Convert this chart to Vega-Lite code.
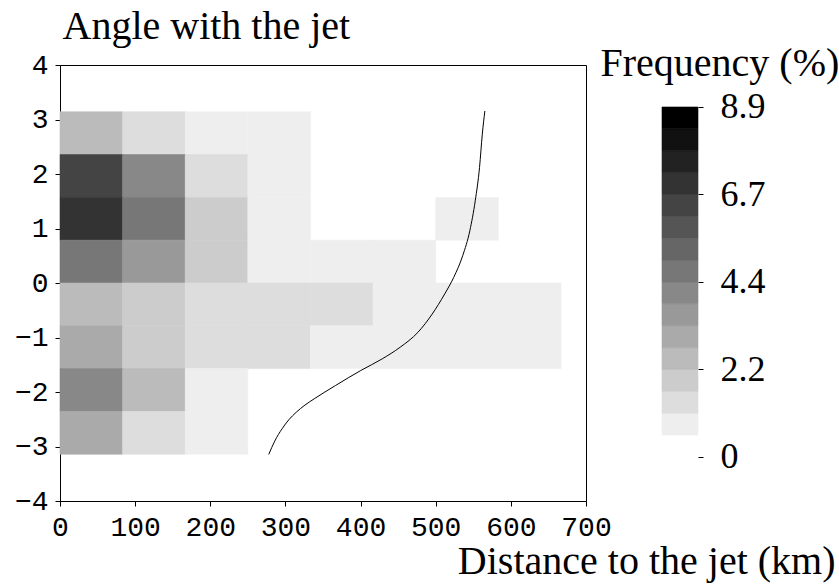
{
  "$schema": "https://vega.github.io/schema/vega-lite/v6.json",
  "background": "white",
  "padding": {"left": 13, "top": 5, "right": 4, "bottom": 8},
  "config": {
    "view": {"stroke": "black", "strokeWidth": 1},
    "axis": {
      "grid": false,
      "domainColor": "black",
      "tickColor": "black",
      "labelColor": "black",
      "titleColor": "black",
      "labelFont": "Liberation Mono",
      "labelFontSize": 28,
      "titleFont": "Liberation Serif",
      "titleFontSize": 40,
      "titleFontWeight": "normal"
    }
  },
  "datasets": {
    "cells": [
      {"dist_start": 0, "dist_end": 83.33, "angle_start": 2.3562, "angle_end": 3.1416, "freq": 2.5},
      {"dist_start": 83.33, "dist_end": 166.67, "angle_start": 2.3562, "angle_end": 3.1416, "freq": 1.39},
      {"dist_start": 166.67, "dist_end": 250, "angle_start": 2.3562, "angle_end": 3.1416, "freq": 0.83},
      {"dist_start": 250, "dist_end": 333.33, "angle_start": 2.3562, "angle_end": 3.1416, "freq": 0.83},

      {"dist_start": 0, "dist_end": 83.33, "angle_start": 1.5708, "angle_end": 2.3562, "freq": 6.4},
      {"dist_start": 83.33, "dist_end": 166.67, "angle_start": 1.5708, "angle_end": 2.3562, "freq": 4.17},
      {"dist_start": 166.67, "dist_end": 250, "angle_start": 1.5708, "angle_end": 2.3562, "freq": 1.39},
      {"dist_start": 250, "dist_end": 333.33, "angle_start": 1.5708, "angle_end": 2.3562, "freq": 0.83},

      {"dist_start": 0, "dist_end": 83.33, "angle_start": 0.7854, "angle_end": 1.5708, "freq": 6.95},
      {"dist_start": 83.33, "dist_end": 166.67, "angle_start": 0.7854, "angle_end": 1.5708, "freq": 4.7},
      {"dist_start": 166.67, "dist_end": 250, "angle_start": 0.7854, "angle_end": 1.5708, "freq": 1.95},
      {"dist_start": 250, "dist_end": 333.33, "angle_start": 0.7854, "angle_end": 1.5708, "freq": 0.83},
      {"dist_start": 500, "dist_end": 583.33, "angle_start": 0.7854, "angle_end": 1.5708, "freq": 0.83},

      {"dist_start": 0, "dist_end": 83.33, "angle_start": 0, "angle_end": 0.7854, "freq": 4.7},
      {"dist_start": 83.33, "dist_end": 166.67, "angle_start": 0, "angle_end": 0.7854, "freq": 3.6},
      {"dist_start": 166.67, "dist_end": 250, "angle_start": 0, "angle_end": 0.7854, "freq": 1.95},
      {"dist_start": 250, "dist_end": 333.33, "angle_start": 0, "angle_end": 0.7854, "freq": 0.83},
      {"dist_start": 333.33, "dist_end": 416.67, "angle_start": 0, "angle_end": 0.7854, "freq": 0.83},
      {"dist_start": 416.67, "dist_end": 500, "angle_start": 0, "angle_end": 0.7854, "freq": 0.83},

      {"dist_start": 0, "dist_end": 83.33, "angle_start": -0.7854, "angle_end": 0, "freq": 2.5},
      {"dist_start": 83.33, "dist_end": 166.67, "angle_start": -0.7854, "angle_end": 0, "freq": 1.95},
      {"dist_start": 166.67, "dist_end": 250, "angle_start": -0.7854, "angle_end": 0, "freq": 1.39},
      {"dist_start": 250, "dist_end": 333.33, "angle_start": -0.7854, "angle_end": 0, "freq": 1.39},
      {"dist_start": 333.33, "dist_end": 416.67, "angle_start": -0.7854, "angle_end": 0, "freq": 1.39},
      {"dist_start": 416.67, "dist_end": 500, "angle_start": -0.7854, "angle_end": 0, "freq": 0.83},
      {"dist_start": 500, "dist_end": 583.33, "angle_start": -0.7854, "angle_end": 0, "freq": 0.83},
      {"dist_start": 583.33, "dist_end": 666.67, "angle_start": -0.7854, "angle_end": 0, "freq": 0.83},

      {"dist_start": 0, "dist_end": 83.33, "angle_start": -1.5708, "angle_end": -0.7854, "freq": 3.06},
      {"dist_start": 83.33, "dist_end": 166.67, "angle_start": -1.5708, "angle_end": -0.7854, "freq": 1.95},
      {"dist_start": 166.67, "dist_end": 250, "angle_start": -1.5708, "angle_end": -0.7854, "freq": 1.39},
      {"dist_start": 250, "dist_end": 333.33, "angle_start": -1.5708, "angle_end": -0.7854, "freq": 1.39},
      {"dist_start": 333.33, "dist_end": 416.67, "angle_start": -1.5708, "angle_end": -0.7854, "freq": 0.83},
      {"dist_start": 416.67, "dist_end": 500, "angle_start": -1.5708, "angle_end": -0.7854, "freq": 0.83},
      {"dist_start": 500, "dist_end": 583.33, "angle_start": -1.5708, "angle_end": -0.7854, "freq": 0.83},
      {"dist_start": 583.33, "dist_end": 666.67, "angle_start": -1.5708, "angle_end": -0.7854, "freq": 0.83},

      {"dist_start": 0, "dist_end": 83.33, "angle_start": -2.3562, "angle_end": -1.5708, "freq": 4.17},
      {"dist_start": 83.33, "dist_end": 166.67, "angle_start": -2.3562, "angle_end": -1.5708, "freq": 2.5},
      {"dist_start": 166.67, "dist_end": 250, "angle_start": -2.3562, "angle_end": -1.5708, "freq": 0.83},

      {"dist_start": 0, "dist_end": 83.33, "angle_start": -3.1416, "angle_end": -2.3562, "freq": 3.06},
      {"dist_start": 83.33, "dist_end": 166.67, "angle_start": -3.1416, "angle_end": -2.3562, "freq": 1.39},
      {"dist_start": 166.67, "dist_end": 250, "angle_start": -3.1416, "angle_end": -2.3562, "freq": 0.83}
    ],
    "curve": [
      {"i": 0, "dist": 277.8, "angle": -3.145},
      {"i": 1, "dist": 285.8, "angle": -2.9},
      {"i": 2, "dist": 295.5, "angle": -2.675},
      {"i": 3, "dist": 304.5, "angle": -2.51},
      {"i": 4, "dist": 314.5, "angle": -2.37},
      {"i": 5, "dist": 326.0, "angle": -2.24},
      {"i": 6, "dist": 338.3, "angle": -2.125},
      {"i": 7, "dist": 366.8, "angle": -1.88},
      {"i": 8, "dist": 400.2, "angle": -1.606},
      {"i": 9, "dist": 428.8, "angle": -1.392},
      {"i": 10, "dist": 452.6, "angle": -1.179},
      {"i": 11, "dist": 476.4, "angle": -0.904},
      {"i": 12, "dist": 495.4, "angle": -0.568},
      {"i": 13, "dist": 512.0, "angle": -0.2},
      {"i": 14, "dist": 524.0, "angle": 0.104},
      {"i": 15, "dist": 535.9, "angle": 0.501},
      {"i": 16, "dist": 545.4, "angle": 0.959},
      {"i": 17, "dist": 552.6, "angle": 1.508},
      {"i": 18, "dist": 558.3, "angle": 2.119},
      {"i": 19, "dist": 562.0, "angle": 2.73},
      {"i": 20, "dist": 565.4, "angle": 3.157}
    ],
    "legend": [
      {"lo": 0.55625, "hi": 1.1125, "mid": 0.834},
      {"lo": 1.1125, "hi": 1.66875, "mid": 1.39},
      {"lo": 1.66875, "hi": 2.225, "mid": 1.947},
      {"lo": 2.225, "hi": 2.78125, "mid": 2.503},
      {"lo": 2.78125, "hi": 3.3375, "mid": 3.059},
      {"lo": 3.3375, "hi": 3.89375, "mid": 3.616},
      {"lo": 3.89375, "hi": 4.45, "mid": 4.172},
      {"lo": 4.45, "hi": 5.00625, "mid": 4.728},
      {"lo": 5.00625, "hi": 5.5625, "mid": 5.284},
      {"lo": 5.5625, "hi": 6.11875, "mid": 5.841},
      {"lo": 6.11875, "hi": 6.675, "mid": 6.397},
      {"lo": 6.675, "hi": 7.23125, "mid": 6.953},
      {"lo": 7.23125, "hi": 7.7875, "mid": 7.509},
      {"lo": 7.7875, "hi": 8.34375, "mid": 8.066},
      {"lo": 8.34375, "hi": 8.9, "mid": 8.622}
    ]
  },
  "spacing": 76,
  "bounds": "flush",
  "resolve": {"scale": {"color": "shared", "stroke": "shared"}},
  "hconcat": [
    {
      "width": 526,
      "height": 436,
      "layer": [
        {
          "data": {"name": "cells"},
          "mark": {"type": "rect", "strokeWidth": 0.6},
          "encoding": {
            "x": {
              "field": "dist_start",
              "type": "quantitative",
              "scale": {"domain": [0, 700], "nice": false, "zero": false},
              "axis": {
                "values": [0, 50, 100, 150, 200, 250, 300, 350, 400, 450, 500, 550, 600, 650, 700],
                "labelExpr": "datum.value % 100 === 0 ? datum.label : ''",
                "tickSize": 5,
                "labelPadding": 7,
                "labelFlush": false,
                "labelOverlap": false,
                "title": "Distance to the jet (km)",
                "titleAnchor": "start",
                "titleX": 775,
                "titleY": 72,
                "titleAlign": "right",
                "titleBaseline": "alphabetic"
              }
            },
            "x2": {"field": "dist_end"},
            "y": {
              "field": "angle_start",
              "type": "quantitative",
              "scale": {"domain": [-4, 4], "nice": false, "zero": false},
              "axis": {
                "values": [-4, -3.5, -3, -2.5, -2, -1.5, -1, -0.5, 0, 0.5, 1, 1.5, 2, 2.5, 3, 3.5, 4],
                "labelExpr": "datum.value % 1 === 0 ? datum.label : ''",
                "tickSize": 5,
                "labelPadding": 7,
                "labelFlush": false,
                "labelOverlap": false,
                "title": "Angle with the jet",
                "titleAngle": 0,
                "titleAnchor": "start",
                "titleX": 2,
                "titleY": -27,
                "titleAlign": "left",
                "titleBaseline": "alphabetic"
              }
            },
            "y2": {"field": "angle_end"},
            "color": {
              "field": "freq",
              "type": "quantitative",
              "scale": {
                "type": "quantize",
                "domain": [0, 8.9],
                "nice": false,
                "zero": false,
                "range": ["#ffffff", "#eeeeee", "#dddddd", "#cccccc", "#bbbbbb", "#aaaaaa", "#999999", "#888888", "#777777", "#666666", "#555555", "#444444", "#333333", "#222222", "#111111", "#000000"]
              },
              "legend": null
            },
            "stroke": {
              "field": "freq",
              "type": "quantitative",
              "scale": {
                "type": "quantize",
                "domain": [0, 8.9],
                "nice": false,
                "zero": false,
                "range": ["#ffffff", "#eeeeee", "#dddddd", "#cccccc", "#bbbbbb", "#aaaaaa", "#999999", "#888888", "#777777", "#666666", "#555555", "#444444", "#333333", "#222222", "#111111", "#000000"]
              },
              "legend": null
            }
          }
        },
        {
          "data": {"name": "curve"},
          "mark": {"type": "line", "color": "black", "strokeWidth": 1, "interpolate": "monotone"},
          "encoding": {
            "x": {"field": "dist", "type": "quantitative"},
            "y": {"field": "angle", "type": "quantitative"},
            "order": {"field": "i", "type": "quantitative"}
          }
        }
      ]
    },
    {
      "width": 36,
      "height": 436,
      "view": {"stroke": null},
      "data": {"name": "legend"},
      "mark": {"type": "rect", "strokeWidth": 0.6},
      "encoding": {
        "y": {
          "field": "lo",
          "type": "quantitative",
          "scale": {"domain": [-1.119, 9.968], "nice": false, "zero": false},
          "axis": {
            "orient": "right",
            "values": [0, 2.225, 4.45, 6.675, 8.9],
            "labelExpr": "datum.value === 0 ? '0' : format(datum.value - 0.0001, '.1f')",
            "domain": false,
            "tickSize": 5,
            "labelPadding": 17,
            "labelFont": "Liberation Serif",
            "labelFontSize": 36,
            "title": "Frequency (%)",
            "titleAngle": 0,
            "titleAnchor": "start",
            "titleX": -98,
            "titleY": 10,
            "titleAlign": "left",
            "titleBaseline": "alphabetic"
          }
        },
        "y2": {"field": "hi"},
        "color": {
          "field": "mid",
          "type": "quantitative",
          "scale": {
            "type": "quantize",
            "domain": [0, 8.9],
            "nice": false,
            "zero": false,
            "range": ["#ffffff", "#eeeeee", "#dddddd", "#cccccc", "#bbbbbb", "#aaaaaa", "#999999", "#888888", "#777777", "#666666", "#555555", "#444444", "#333333", "#222222", "#111111", "#000000"]
          },
          "legend": null
        },
        "stroke": {
          "field": "mid",
          "type": "quantitative",
          "scale": {
            "type": "quantize",
            "domain": [0, 8.9],
            "nice": false,
            "zero": false,
            "range": ["#ffffff", "#eeeeee", "#dddddd", "#cccccc", "#bbbbbb", "#aaaaaa", "#999999", "#888888", "#777777", "#666666", "#555555", "#444444", "#333333", "#222222", "#111111", "#000000"]
          },
          "legend": null
        }
      }
    }
  ]
}
